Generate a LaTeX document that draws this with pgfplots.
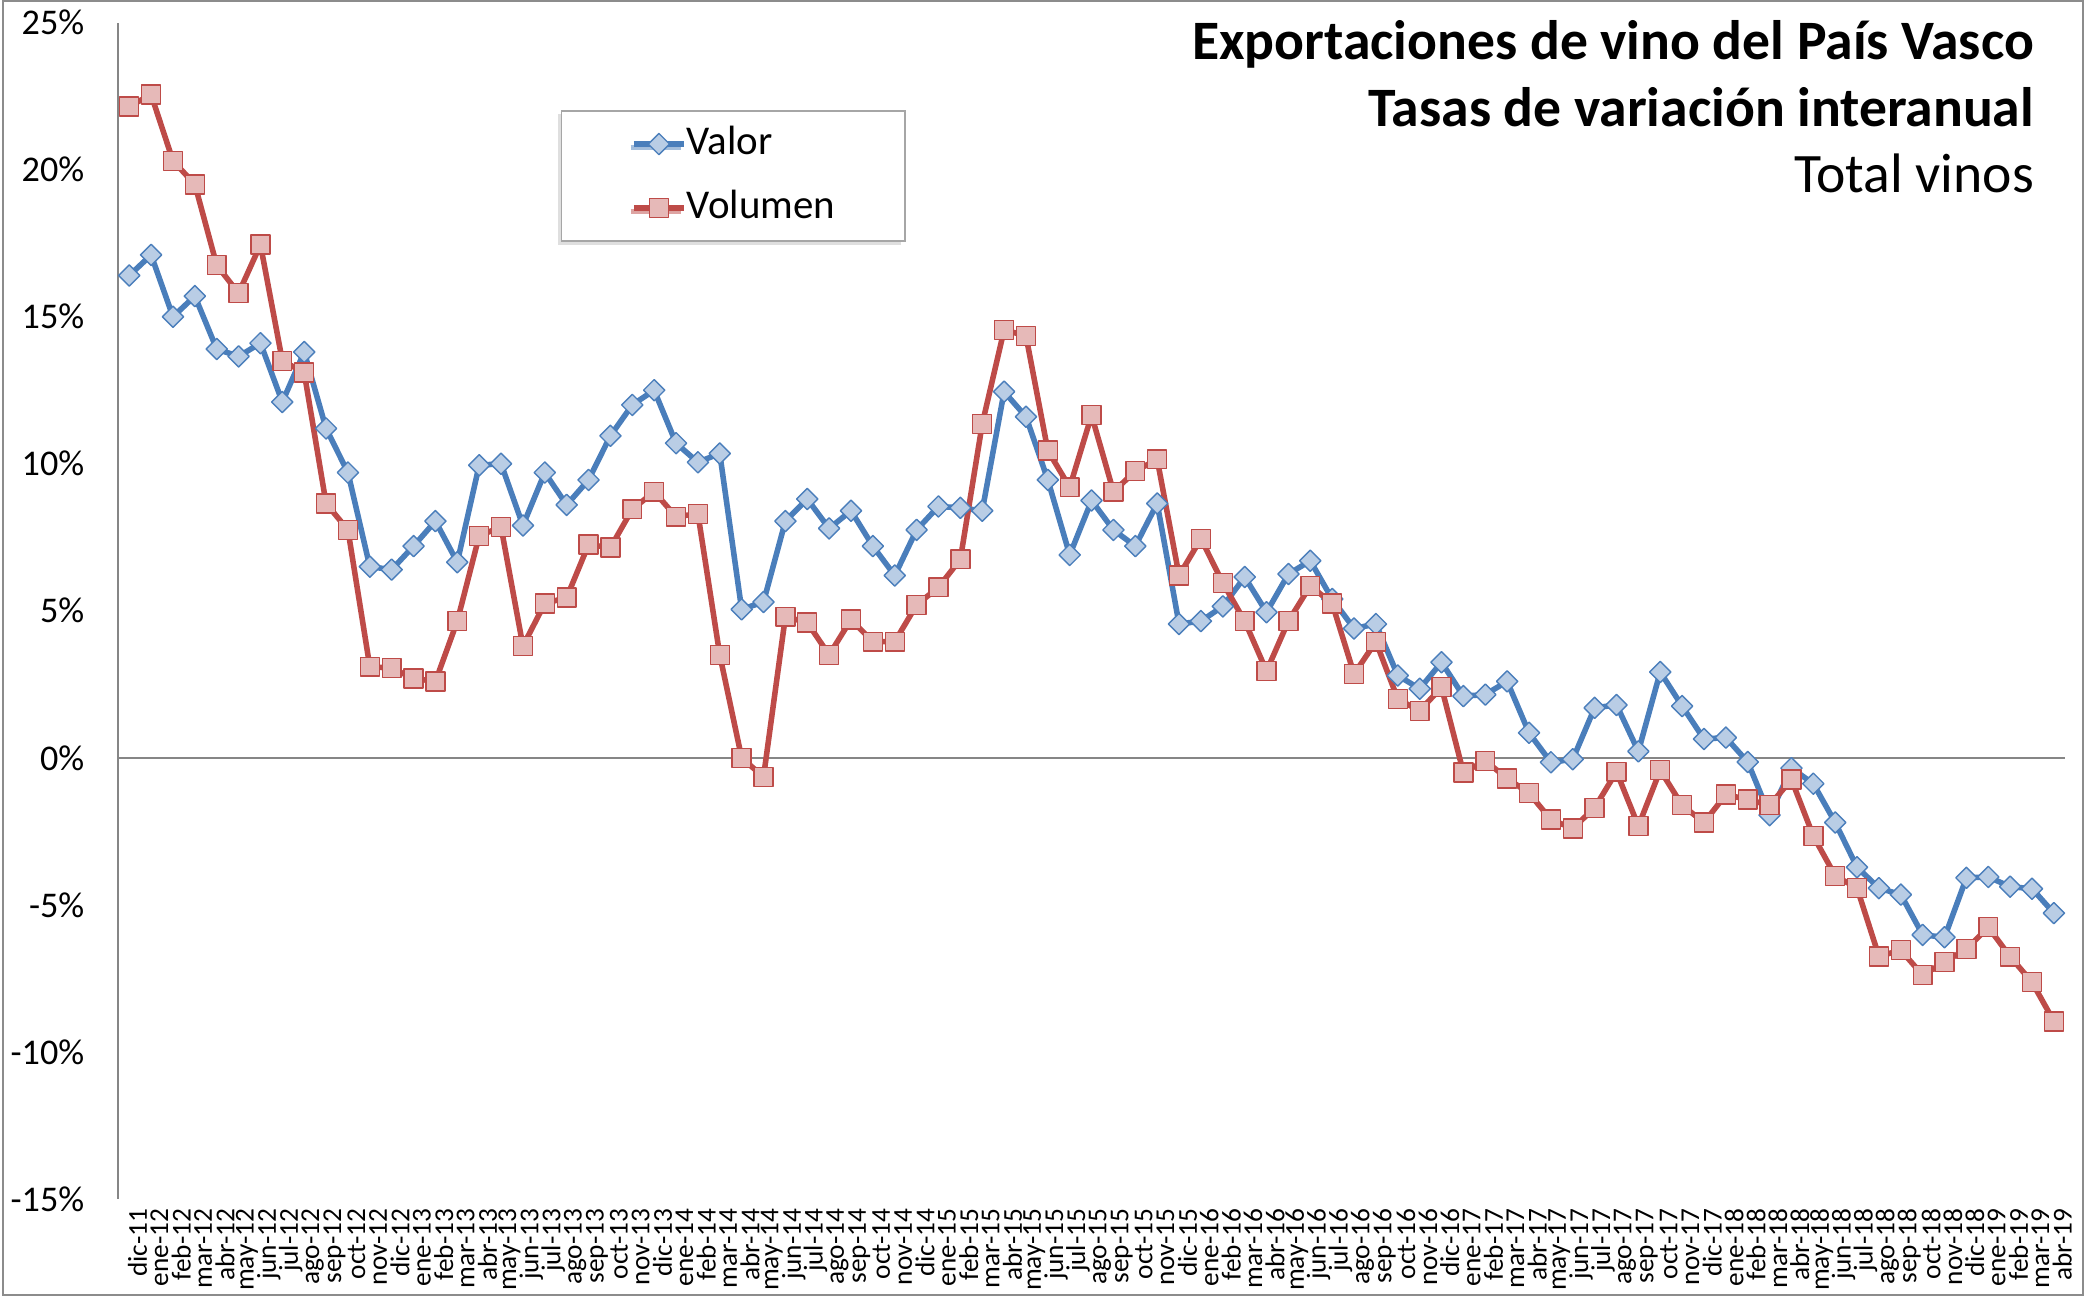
\documentclass[border=0pt]{standalone}
\usepackage{pgfplots}
\pgfplotsset{compat=1.18}
\usepackage{pgfplotstable}
\usepackage{fontspec}
\setmainfont{Carlito}
\usetikzlibrary{shadows}
\definecolor{valline}{HTML}{4A7EBB}
\definecolor{valfill}{HTML}{B9CDE5}
\definecolor{volline}{HTML}{BE4B48}
\definecolor{volfill}{HTML}{E6B9B8}
\definecolor{axgray}{HTML}{868686}
\definecolor{framegray}{HTML}{8C8C8C}
\definecolor{leggray}{HTML}{A6A6A6}

\pgfplotstableread{
x valor volumen
0 16.4 22.15
1 17.1 22.55
2 15.0 20.3
3 15.7 19.5
4 13.9 16.75
5 13.65 15.8
6 14.1 17.45
7 12.1 13.5
8 13.8 13.1
9 11.2 8.65
10 9.7 7.75
11 6.5 3.1
12 6.4 3.05
13 7.2 2.7
14 8.05 2.6
15 6.65 4.65
16 9.95 7.55
17 10.0 7.85
18 7.9 3.8
19 9.7 5.25
20 8.6 5.45
21 9.45 7.25
22 10.95 7.15
23 12.0 8.45
24 12.5 9.05
25 10.7 8.2
26 10.05 8.3
27 10.35 3.5
28 5.05 0.0
29 5.3 -0.65
30 8.05 4.8
31 8.8 4.6
32 7.8 3.5
33 8.4 4.7
34 7.2 3.95
35 6.2 3.95
36 7.75 5.2
37 8.55 5.8
38 8.5 6.75
39 8.4 11.35
40 12.45 14.55
41 11.6 14.35
42 9.45 10.45
43 6.9 9.2
44 8.75 11.65
45 7.75 9.05
46 7.2 9.75
47 8.65 10.15
48 4.55 6.2
49 4.65 7.45
50 5.15 5.95
51 6.15 4.65
52 4.95 2.95
53 6.25 4.65
54 6.7 5.85
55 5.4 5.25
56 4.4 2.85
57 4.55 3.95
58 2.8 2.0
59 2.35 1.6
60 3.25 2.4
61 2.1 -0.5
62 2.15 -0.1
63 2.6 -0.7
64 0.85 -1.2
65 -0.15 -2.1
66 -0.05 -2.4
67 1.7 -1.7
68 1.8 -0.47
69 0.22 -2.32
70 2.92 -0.42
71 1.76 -1.61
72 0.64 -2.2
73 0.69 -1.25
74 -0.14 -1.42
75 -1.95 -1.61
76 -0.35 -0.74
77 -0.88 -2.66
78 -2.2 -4.01
79 -3.72 -4.43
80 -4.43 -6.75
81 -4.65 -6.54
82 -6.02 -7.39
83 -6.1 -6.94
84 -4.08 -6.5
85 -4.05 -5.76
86 -4.38 -6.76
87 -4.45 -7.63
88 -5.28 -8.96
}\datatable

\begin{document}
\begin{tikzpicture}
\begin{axis}[
  scale only axis,
  width=699.6pt, height=422.8pt,
  xmin=-0.5, xmax=88.5, ymin=-15, ymax=25,
  axis lines*=left,
  x axis line style={draw=none},
  y axis line style={draw=axgray, line width=0.7pt},
  xtick={0,...,88},
  xticklabels={dic-11,
    ene-12,feb-12,mar-12,abr-12,may-12,jun-12,jul-12,ago-12,sep-12,oct-12,nov-12,dic-12,
    ene-13,feb-13,mar-13,abr-13,may-13,jun-13,jul-13,ago-13,sep-13,oct-13,nov-13,dic-13,
    ene-14,feb-14,mar-14,abr-14,may-14,jun-14,jul-14,ago-14,sep-14,oct-14,nov-14,dic-14,
    ene-15,feb-15,mar-15,abr-15,may-15,jun-15,jul-15,ago-15,sep-15,oct-15,nov-15,dic-15,
    ene-16,feb-16,mar-16,abr-16,may-16,jun-16,jul-16,ago-16,sep-16,oct-16,nov-16,dic-16,
    ene-17,feb-17,mar-17,abr-17,may-17,jun-17,jul-17,ago-17,sep-17,oct-17,nov-17,dic-17,
    ene-18,feb-18,mar-18,abr-18,may-18,jun-18,jul-18,ago-18,sep-18,oct-18,nov-18,dic-18,
    ene-19,feb-19,mar-19,abr-19},
  ytick={-15,-10,...,25},
  yticklabels={-15\%,-10\%,-5\%,0\%,5\%,10\%,15\%,20\%,25\%},
  major tick length=0pt,
  tick style={draw=none},
  xticklabel style={rotate=90, anchor=east, font=\fontsize{9.8}{10}\selectfont, yshift=-3pt},
  yticklabel style={font=\fontsize{13}{15}\selectfont, xshift=-8.7pt},
  extra y ticks={0},
  extra y tick labels={},
  extra y tick style={grid=major, major grid style={draw=axgray, line width=0.7pt}},
  legend style={at={(0.2273,0.9257)}, anchor=north west, draw=leggray, fill=white,
    line width=0.6pt,
    font=\fontsize{14.7}{17}\selectfont,
    inner xsep=25pt, inner ysep=5.2pt, row sep=9.5pt,
    cells={anchor=west},
    nodes={inner sep=0pt, text height=10.5pt, text depth=3pt},
    /tikz/every odd column/.append style={column sep=0pt},
    drop shadow={shadow xshift=-1.2pt, shadow yshift=-1.2pt, fill=black!25}},
  legend image code/.code={
    \draw[mark repeat=2, mark phase=2, #1] plot coordinates {(0pt,0pt) (9pt,0pt) (18pt,0pt)};
  },
]
\addplot[draw=valline, line width=2pt, line join=round,
  mark=square*, mark size=2.7pt,
  mark options={fill=valfill, draw=valline, line width=0.5pt, rotate=45}]
  table[x=x, y=valor] {\datatable};
\addlegendentry{Valor}
\addplot[draw=volline, line width=2pt, line join=round,
  mark=square*, mark size=3.4pt,
  mark options={fill=volfill, draw=volline, line width=0.5pt}]
  table[x=x, y=volumen] {\datatable};
\addlegendentry{Volumen}
\end{axis}
\node[anchor=base east, font=\fontsize{20}{24}\selectfont\bfseries] at (692pt,409.4pt) {Exportaciones de vino del País Vasco};
\node[anchor=base east, font=\fontsize{20}{24}\selectfont\bfseries] at (692pt,385.6pt) {Tasas de variación interanual};
\node[anchor=base east, font=\fontsize{20}{24}\selectfont] at (692pt,361.6pt) {Total vinos};
\draw[framegray, line width=0.6pt] (-41.44pt,-34.5pt) rectangle (706.1pt,430.56pt);
\pgfresetboundingbox
\useasboundingbox (-42.52pt,-35.58pt) rectangle (707.55pt,430.92pt);
\end{tikzpicture}
\end{document}
